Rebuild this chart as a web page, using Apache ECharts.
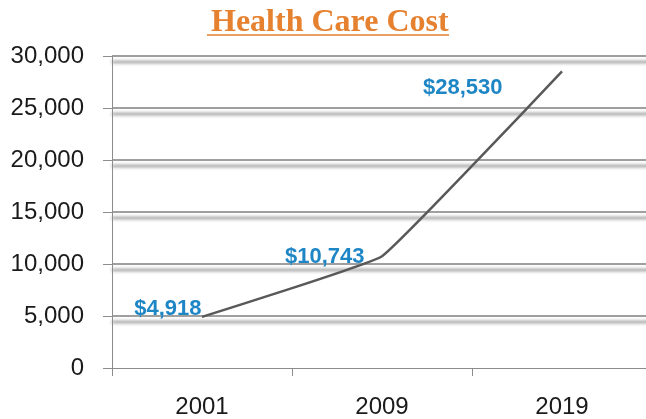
<!DOCTYPE html>
<html>
<head>
<meta charset="utf-8">
<script src="https://cdn.jsdelivr.net/npm/echarts@6/dist/echarts.min.js"></script>
<style>
  html, body { margin: 0; padding: 0; background: #fff; overflow: hidden; }
  /* plot area runs slightly past the right edge in the original */
  #chart { width: 652px; height: 419px; }
</style>
</head>
<body>
<div id="chart"></div>
<script>
// Health care cost per year
const years = ["2001", "2009", "2019"];
const costs = [4918, 10743, 28530];
const costLabels = ["$4,918", "$10,743", "$28,530"];
// label placement tweaks (distance left of point, vertical offset)
const labelDistance = [0, 17, 59];
const labelOffsetY = [-8, 1, 17];

const chart = echarts.init(document.getElementById("chart"));

const option = {
  backgroundColor: "#ffffff",
  animation: false,
  title: {
    text: "Health Care Cost",
    left: 206,
    top: 2,
    textStyle: {
      fontFamily: "Liberation Serif",
      fontWeight: "bold",
      fontSize: 32,
      color: "#E5812F",
    },
  },
  graphic: [
    {
      type: "line",
      shape: { x1: 207, y1: 35, x2: 449, y2: 35 },
      style: { stroke: "#E5812F", lineWidth: 1.5 },
    },
  ],
  grid: {
    left: 112,
    right: 0,
    top: 56,
    bottom: 49,
  },
  xAxis: {
    type: "category",
    data: years,
    boundaryGap: true,
    axisLine: { lineStyle: { color: "#8c8c8c", width: 1 } },
    axisTick: { show: true, length: 8, lineStyle: { color: "#8c8c8c" } },
    axisLabel: {
      margin: 27,
      fontFamily: "Liberation Sans",
      fontSize: 24,
      color: "#1a1a1a",
    },
  },
  yAxis: {
    type: "value",
    min: 0,
    max: 30000,
    interval: 5000,
    axisLine: { show: true, lineStyle: { color: "#8c8c8c", width: 1 } },
    axisTick: { show: true, length: 9, lineStyle: { color: "#8c8c8c" } },
    axisLabel: {
      margin: 28,
      fontFamily: "Liberation Sans",
      fontSize: 24,
      color: "#1a1a1a",
      formatter: (v) => v.toLocaleString("en-US"),
    },
    splitLine: {
      show: true,
      showMinLine: false,
      lineStyle: {
        color: "#7f7f7f",
        width: 1.5,
        shadowColor: "rgba(0,0,0,0.7)",
        shadowBlur: 3.5,
        shadowOffsetY: 6,
      },
    },
  },
  series: [
    {
      type: "line",
      data: costs.map((v, i) => ({
        value: v,
        label: {
          distance: labelDistance[i],
          offset: [0, labelOffsetY[i]],
        },
      })),
      smooth: 0.08,
      symbol: "circle",
      symbolSize: 1,
      showSymbol: true,
      itemStyle: { color: "rgba(0,0,0,0)" },
      lineStyle: { color: "#595959", width: 2.5 },
      label: {
        show: true,
        position: "left",
        formatter: (p) => costLabels[p.dataIndex],
        fontFamily: "Liberation Sans",
        fontWeight: "bold",
        fontSize: 22,
        color: "#1F86C6",
      },
      z: 5,
    },
  ],
};

chart.setOption(option);
</script>
</body>
</html>
